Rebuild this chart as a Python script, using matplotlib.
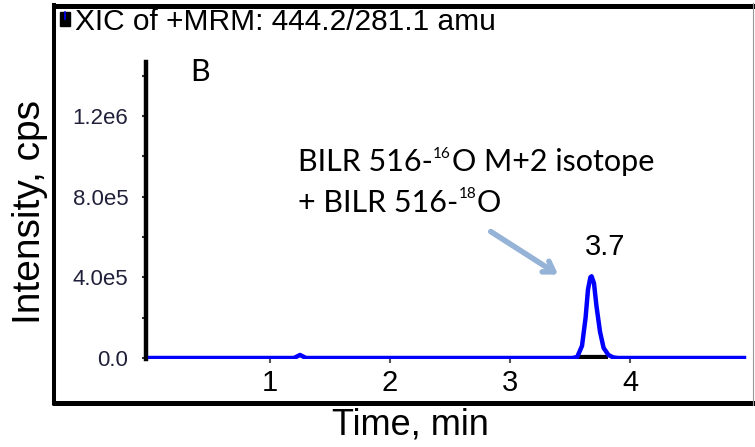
"""
XIC chromatogram, MRM 444.2/281.1 (panel B).
"""

import matplotlib
matplotlib.use('Agg')
import matplotlib.pyplot as plt
from matplotlib.lines import Line2D
from matplotlib.patches import Rectangle

plt.rcParams['font.family'] = ['Liberation Sans', 'DejaVu Sans']

# trace (time in min, intensity in cps)
time = [0.0, 1.20, 1.25, 1.30, 3.52, 3.56, 3.60, 3.63, 3.65, 3.67, 3.68,
        3.70, 3.72, 3.75, 3.78, 3.82, 3.86, 3.90, 4.95]
intensity = [0, 0, 1.5e4, 0, 0, 5e3, 6e4, 2.0e5, 3.4e5, 4.0e5, 4.05e5,
             3.7e5, 2.6e5, 1.3e5, 5e4, 1.5e4, 3e3, 0, 0]
peak_start, peak_end = 3.56, 3.82
peak_rt = "3.7"

x_ticks = [1, 2, 3, 4]
y_ticks = [0, 4.0e5, 8.0e5, 1.2e6]
y_ticklabels = ['0.0', '4.0e5', '8.0e5', '1.2e6']

# annotation lines as (text, is_superscript) pieces
label_line1 = [('BILR 516-', False), ('16', True), ('O M+2 isotope', False)]
label_line2 = [('+ BILR 516-', False), ('18', True), ('O', False)]

W, H = 755, 447
fig = plt.figure(figsize=(W / 100, H / 100), dpi=100)


def fx(px):
    return px / W


def fy(py):
    return 1 - py / H


# outer frame like the Analyst export
frame = dict(transform=fig.transFigure, color='black', solid_capstyle='butt')
fig.add_artist(Line2D([fx(52), fx(755)], [fy(5.5), fy(5.5)], lw=3.6, **frame))
fig.add_artist(Line2D([fx(54), fx(54)], [fy(3), fy(405)], lw=2.9, **frame))
fig.add_artist(Line2D([fx(52), fx(755)], [fy(402.5), fy(402.5)], lw=3.6, **frame))
fig.add_artist(Line2D([fx(753), fx(753)], [fy(3), fy(405)], lw=0.8,
                      transform=fig.transFigure, color='#999999'))
fig.add_artist(Rectangle((fx(60), fy(26)), fx(10), 14 / H,
                         transform=fig.transFigure, color='black'))
fig.add_artist(Line2D([fx(65), fx(65)], [fy(12), fy(19)], lw=1.2,
                      transform=fig.transFigure, color='blue'))

fig.text(fx(75), fy(22), 'XIC of +MRM: 444.2/281.1 amu', fontsize=21.5,
         va='center', ha='left', color='black')
fig.text(fx(30), fy(212), 'Intensity, cps', fontsize=28, rotation=90,
         va='center', ha='center')
fig.text(fx(410), fy(425), 'Time, min', fontsize=26, va='center', ha='center')

ax = fig.add_axes([fx(146.4), fy(359), (750 - 146.4) / W, (359 - 62) / H])
ax.set_xlim(-0.03, 5.0)
ax.set_ylim(-0.5e4, 1.467e6)

ax.plot([peak_start, peak_end], [0, 0], color='black', lw=4.5,
        solid_capstyle='butt', zorder=2)
ax.plot(time, intensity, color='#0000ff', lw=3.2, zorder=3)

for s in ['top', 'right', 'bottom']:
    ax.spines[s].set_visible(False)
ax.spines['left'].set_linewidth(3.2)

ax.set_xticks(x_ticks)
ax.set_xticklabels([str(t) for t in x_ticks], fontsize=21)
ax.set_yticks(y_ticks)
ax.set_yticklabels(y_ticklabels, fontsize=16, color='#20203a')
ax.set_yticks([2e5, 6e5, 1.0e6, 1.4e6], minor=True)
ax.tick_params(axis='x', length=3, width=1.5, color='#555555', pad=4)
ax.tick_params(axis='y', which='both', length=3, width=1.5, color='#333333', pad=10)

ax.text(0.42, 1.418e6, 'B', family='Lato', fontsize=22, ha='center', va='center')


def chained_label(pieces, x, y, size=22):
    # first piece anchored in data coords, the rest chained off the previous box
    prev = None
    raised = False
    for txt, sup in pieces:
        fs = size * 0.5 if sup else size
        if prev is None:
            prev = ax.text(x, y, txt, family='Lato', fontsize=fs,
                           ha='left', va='bottom')
            continue
        dy = 0
        if sup and not raised:
            dy = 11
        elif not sup and raised:
            dy = -11
        raised = sup
        prev = ax.annotate(txt, xy=(1, 0), xycoords=prev,
                           xytext=(0.5, dy), textcoords='offset points',
                           family='Lato', fontsize=fs, ha='left', va='bottom')


chained_label(label_line1, 1.23, 9.0e5)
chained_label(label_line2, 1.23, 7.0e5)

ax.text(3.79, 5.5e5, peak_rt, fontsize=21, ha='center', va='center')
ax.annotate('', xy=(3.42, 4.06e5), xytext=(2.82, 6.34e5),
            arrowprops=dict(arrowstyle='->,head_length=0.7,head_width=0.45',
                            color='#95b3d7', lw=4))

plt.savefig('out.png', dpi=100)
plt.close()
